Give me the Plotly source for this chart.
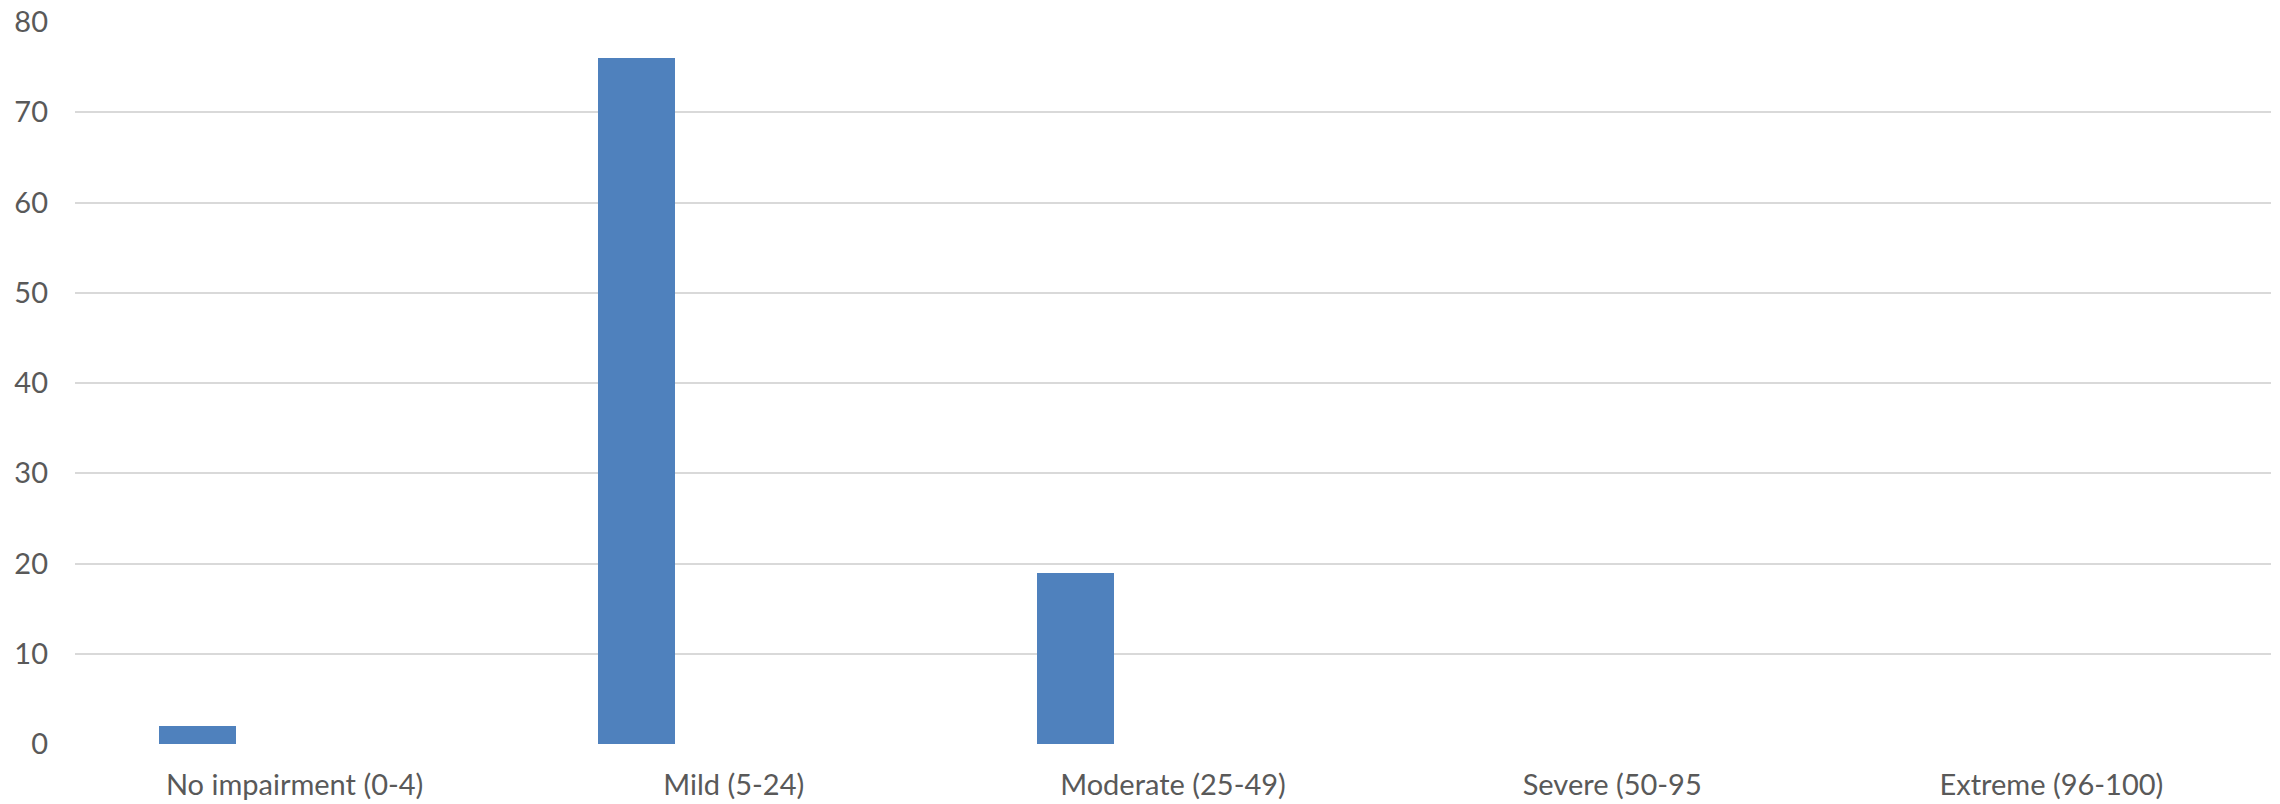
import plotly.graph_objects as go

# Impairment categories and counts
categories = ["No impairment (0-4)", "Mild (5-24)", "Moderate (25-49)", "Severe (50-95", "Extreme (96-100)"]
counts = [2, 76, 19, 0, 0]
y_ticks = [0, 10, 20, 30, 40, 50, 60, 70, 80]

BAR_COLOR = "#4F81BD"
TEXT_COLOR = "#595959"
GRID_COLOR = "#D9D9D9"
FONT = "Lato"

fig = go.Figure()
fig.add_trace(go.Bar(
    x=categories,
    y=counts,
    marker=dict(color=BAR_COLOR, line=dict(width=0)),
    width=0.1754,
    offset=-0.3095,
    hoverinfo="x+y",
))

fig.update_layout(
    width=2280,
    height=804,
    margin=dict(l=75.3, r=9.3, t=21.8, b=59.7, pad=0),
    paper_bgcolor="white",
    plot_bgcolor="white",
    showlegend=False,
    font=dict(family=FONT, size=29, color=TEXT_COLOR),
    bargap=0,
)
fig.update_xaxes(
    type="category",
    range=[-0.5, len(categories) - 0.5],
    automargin=False,
    showgrid=False,
    showline=False,
    zeroline=False,
    ticks="",
    ticklabelstandoff=21,
    tickfont=dict(family=FONT, size=29, color=TEXT_COLOR),
)
fig.update_yaxes(
    range=[0, 80],
    tickvals=y_ticks,
    automargin=False,
    showgrid=True,
    gridcolor=GRID_COLOR,
    gridwidth=1.5,
    zeroline=False,
    showline=False,
    ticks="",
    ticklabelstandoff=26,
    tickfont=dict(family=FONT, size=29, color=TEXT_COLOR),
)

fig.write_html("out.html")
